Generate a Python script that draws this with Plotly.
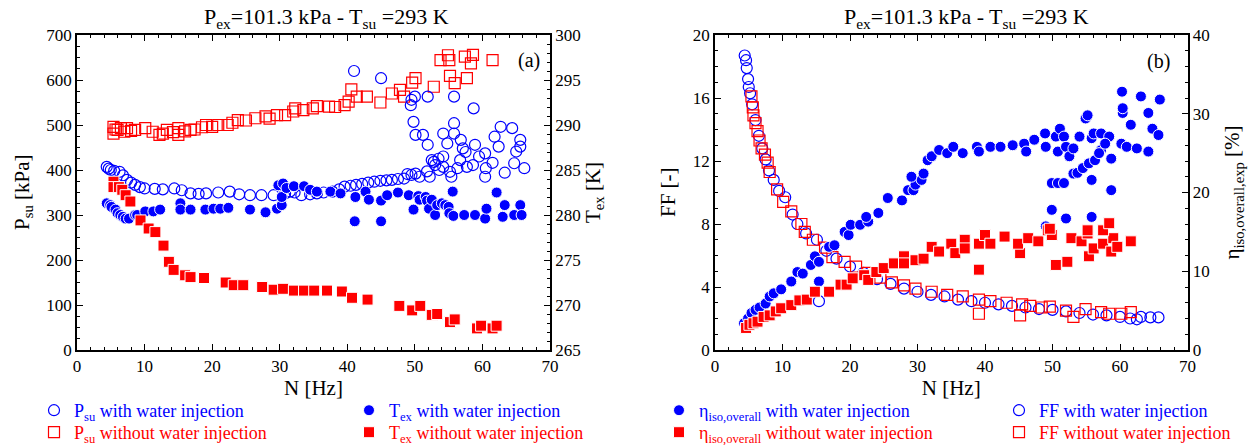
import plotly.graph_objects as go

# ---------------- data ----------------
# (a) P_su with water injection  [kPa]  (left axis)
N_psu_w = [4.4, 4.7, 5.0, 5.5, 6.3, 6.8, 7.4, 8.0, 8.6, 9.3, 10.0, 11.5, 12.7, 14.4, 15.5, 16.8,
           18.0, 19.1, 20.9, 22.6, 24.0, 25.6, 27.3, 29.1, 30.8, 31.5, 32.2, 33.2, 34.5, 35.5, 36.5,
           37.8, 38.8, 39.6, 40.5, 41.3, 42.2, 43.1, 44.0, 44.9, 45.8, 46.6, 47.5, 48.4, 49.5, 50.1,
           41.0, 45.0, 50.0, 51.9, 55.8, 58.7, 49.5, 49.4, 49.8, 50.1, 51.2, 51.9, 54.2, 55.8, 55.8,
           54.8, 56.8, 57.1, 58.9, 60.4, 62.7, 64.4, 61.8, 62.4, 65.6, 65.6, 65.0, 66.2, 63.3, 64.7,
           61.5, 60.5, 60.4, 58.6, 57.7, 56.3, 55.4, 53.6, 53.0, 52.2, 50.7, 48.9, 52.5, 54.2, 51.8,
           52.8, 54.2, 55.2, 56.7, 57.5, 53.5, 59.5]
P_psu_w = [407, 403, 400, 398, 396, 388, 378, 372, 367, 362, 359, 358, 357, 359, 355, 348,
           347, 348, 350, 352, 346, 344, 344, 344, 348, 352, 350, 344, 346, 348, 350,
           352, 357, 363, 365, 367, 369, 372, 374, 376, 377, 378, 380, 381, 389, 392,
           620, 604, 563, 563, 563, 537, 556, 544, 507, 478, 478, 456, 481, 504, 481,
           459, 467, 448, 456, 437, 496, 493, 474, 452, 467, 452, 441, 404, 394, 415,
           416, 404, 385, 411, 407, 404, 385, 400, 411, 385, 385, 391, 422, 430, 397,
           418, 407, 396, 422, 440, 425, 430]

# (a) T_ex with water injection [K]  (right axis)
N_tex_w = [4.4, 4.9, 5.1, 5.7, 6.0, 6.4, 6.8, 7.2, 7.7, 8.6, 8.9, 10.1, 11.3, 12.3, 15.3, 15.3,
           16.8, 19.0, 20.2, 21.2, 22.4, 25.6, 27.9, 29.6, 30.3, 29.8, 30.5, 30.3, 31.0, 32.1, 33.6,
           34.5, 35.5, 37.5, 39.0, 41.2, 41.1, 42.7, 43.2, 45.0, 45.0, 45.9, 47.5, 49.1, 49.8, 50.5,
           50.7, 51.6, 51.8, 52.1, 52.5, 53.0, 53.3, 54.0, 54.5, 55.0, 55.1, 55.6, 55.7, 57.3, 58.9,
           60.4, 60.6, 62.1, 63.0, 63.3, 64.7, 65.6, 65.8]
T_tex_w = [281.3, 281.1, 280.9, 280.6, 280.2, 280.0, 279.8, 279.6, 279.6, 280.0, 280.0, 280.4, 280.4,
           280.6, 281.3, 280.6, 280.6, 280.6, 280.7, 280.7, 280.8, 280.6, 280.3, 280.7, 281.1, 283.3,
           283.5, 282.0, 283.0, 283.2, 283.2, 282.8, 282.6, 282.6, 282.4, 282.0, 279.3, 282.6, 281.7,
           281.6, 279.3, 282.2, 282.5, 282.2, 280.6, 282.1, 281.7, 282.0, 281.6, 280.7, 281.7, 280.0,
           281.1, 281.3, 281.1, 280.9, 280.2, 282.6, 279.9, 280.0, 280.0, 279.6, 280.7, 282.5, 279.8,
           281.1, 280.0, 281.1, 280.0]

# (a) P_su without water injection [kPa]
N_psu_wo = [5.4, 5.4, 5.7, 6.0, 6.5, 7.0, 7.4, 8.0, 8.6, 10.1, 11.2, 12.2, 12.7, 13.3, 14.2, 15.0,
            15.0, 16.0, 16.8, 17.4, 18.5, 19.1, 20.0, 20.9, 22.3, 23.0, 23.8, 25.0, 26.4, 27.9, 28.5,
            29.6, 30.8, 32.0, 32.3, 33.5, 34.9, 35.5, 37.3, 38.2, 39.6, 40.2, 40.6, 41.4, 42.9, 44.9,
            46.6, 47.8, 48.4, 49.6, 50.1, 52.8, 53.8, 54.9, 55.1, 55.2, 55.9, 57.7, 57.4, 58.3, 58.6,
            61.5]
P_psu_wo = [496, 481, 490, 489, 493, 485, 493, 487, 489, 493, 485, 478, 481, 489, 484, 493,
            478, 486, 489, 490, 495, 500, 496, 500, 500, 505, 511, 510, 515, 519, 514,
            522, 522, 530, 537, 533, 537, 542, 541, 540, 544, 552, 579, 563, 563, 550,
            570, 578, 563, 594, 604, 585, 644, 655, 644, 609, 593, 604, 652, 637, 656,
            644]

# (a) T_ex without water injection [K]
N_tex_wo = [5.4, 5.4, 6.2, 6.7, 7.2, 7.9, 9.4, 10.6, 11.6, 12.8, 13.6, 14.3, 16.0, 16.8, 18.8, 22.0,
            23.2, 24.6, 27.4, 29.1, 30.5, 32.1, 33.6, 35.1, 37.0, 39.2, 40.7, 43.0, 47.7, 49.6, 50.8,
            52.5, 53.3, 55.2, 55.9, 59.2, 59.8, 61.5, 62.1]
T_tex_wo = [283.7, 283.1, 283.1, 282.8, 282.2, 281.5, 279.4, 278.5, 278.1, 276.6, 274.8, 273.9, 273.3,
            273.1, 273.0, 272.5, 272.2, 272.2, 272.0, 271.7, 271.8, 271.6, 271.6, 271.6, 271.6, 271.5,
            270.8, 270.6, 269.9, 269.4, 269.9, 268.9, 269.0, 268.1, 268.4, 267.4, 267.7, 267.4, 267.7]

# (b) FF with water injection [-]
N_ff_w = [4.4, 4.6, 4.7, 4.9, 5.0, 5.2, 5.5, 6.0, 6.5, 7.0, 7.5, 8.0, 8.7, 9.5, 10.4, 11.5, 12.2,
          13.5, 15.1, 15.4, 16.5, 18.0, 20.0, 22.0, 24.0, 26.0, 28.0, 30.0, 32.0, 34.0, 36.0, 38.0,
          40.0, 42.0, 44.0, 46.0, 48.0, 50.0, 52.0, 54.0, 56.0, 58.0, 60.0, 61.5, 62.5, 63.1, 64.5,
          65.7]
FF_w = [18.7, 18.4, 17.9, 17.2, 16.7, 16.3, 15.6, 14.6, 13.6, 12.8, 12.1, 11.4, 10.8, 10.1, 9.7, 8.6,
        8.0, 7.4, 7.0, 3.1, 6.3, 5.8, 5.3, 4.9, 4.5, 4.2, 3.9, 3.7, 3.5, 3.4, 3.2, 3.1,
        3.0, 2.9, 2.8, 2.7, 2.6, 2.55, 2.45, 2.35, 2.25, 2.2, 2.1, 2.0, 1.95, 2.1, 2.07,
        2.07]

# (b) eta_iso,overall with water injection [%]
N_eta_w = [4.3, 4.9, 5.4, 6.0, 6.6, 7.5, 8.1, 8.7, 9.8, 11.3, 12.2, 13.0, 14.2, 14.8, 15.4, 15.4,
           16.9, 17.7, 19.2, 19.8, 20.1, 21.5, 22.7, 22.4, 24.2, 25.6, 27.7, 28.6, 29.4, 29.7, 30.6,
           29.1, 30.9, 31.5, 32.1, 33.2, 34.4, 35.3, 36.7, 38.8, 39.1, 40.8, 42.3, 44.1, 45.8, 46.1,
           47.3, 48.9, 49.0, 50.5, 51.1, 51.7, 50.8, 52.0, 52.5, 53.1, 54.9, 55.2, 54.0, 55.8, 56.1,
           57.2, 58.4, 57.2, 57.8, 58.7, 55.8, 58.7, 60.2, 60.4, 60.4, 60.3, 61.0, 61.6, 62.5, 63.1,
           64.2, 64.2, 64.8, 65.7, 65.9, 49.9, 50.8, 51.7, 53.1, 53.7, 54.5, 55.4, 56.3, 56.9, 49.9,
           52.0, 55.8, 49.0]
ETA_w = [3.4, 4.0, 4.7, 5.1, 5.4, 5.9, 6.8, 7.2, 7.7, 8.7, 9.9, 9.7, 10.8, 11.9, 11.2, 8.7,
         13.1, 13.3, 15.0, 14.6, 15.9, 15.9, 16.3, 16.9, 17.4, 19.3, 19.0, 20.3, 20.3, 21.0, 21.6,
         22.0, 22.4, 24.1, 24.6, 25.4, 25.0, 25.8, 25.0, 25.8, 25.2, 25.8, 25.8, 26.0, 26.2, 25.2,
         26.7, 27.5, 25.8, 27.1, 28.1, 27.1, 25.2, 25.8, 24.6, 25.6, 29.4, 29.8, 27.1, 26.9, 27.5,
         27.5, 27.1, 25.4, 26.2, 24.3, 21.6, 20.3, 26.2, 30.1, 30.7, 32.8, 25.8, 28.6, 25.6, 32.2,
         30.1, 25.2, 28.1, 27.3, 31.8, 21.2, 21.2, 21.2, 22.4, 22.5, 23.1, 23.7, 24.1, 25.0, 17.8,
         16.7, 16.9, 15.7]

# (b) FF without water injection [-]
N_ff_wo = [5.4, 5.6, 5.7, 6.0, 6.3, 6.6, 6.9, 7.4, 7.8, 8.1, 9.2, 10.1, 11.3, 12.8, 13.3, 14.5,
           16.3, 17.4, 19.2, 20.9, 22.7, 24.5, 26.2, 28.0, 29.7, 32.1, 34.4, 36.7, 39.1, 40.8, 43.2,
           45.5, 46.7, 48.4, 49.6, 52.0, 53.1, 54.9, 57.2, 58.4, 60.2, 61.6, 39.1, 45.2]
FF_wo = [16.1, 15.4, 14.9, 14.4, 13.9, 13.3, 12.8, 12.4, 11.9, 11.3, 10.2, 9.4, 8.8, 8.0, 7.5, 7.0,
         6.5, 5.9, 5.6, 5.3, 4.9, 4.6, 4.3, 4.1, 3.9, 3.7, 3.5, 3.4, 3.2, 3.1, 3.0,
         2.9, 2.8, 2.7, 2.75, 2.5, 2.1, 2.6, 2.4, 2.3, 2.3, 2.4, 2.3, 2.2]

# (b) eta_iso,overall without water injection [%]
N_eta_wo = [4.6, 5.1, 5.7, 6.3, 7.2, 8.1, 9.0, 9.8, 11.3, 12.5, 13.6, 14.8, 16.9, 18.6, 19.5, 20.4,
            22.1, 22.7, 23.9, 25.0, 26.5, 28.0, 28.0, 29.7, 30.9, 32.1, 33.2, 35.0, 35.6, 37.0, 37.0,
            39.1, 39.1, 40.0, 40.8, 42.9, 45.2, 44.9, 46.4, 47.9, 49.3, 49.9, 50.5, 52.2, 52.8, 54.3,
            55.2, 55.4, 56.1, 57.5, 58.4, 59.0, 58.7, 59.6, 61.6, 57.5, 49.6, 55.2, 58.4]
ETA_wo = [2.8, 3.2, 3.4, 3.6, 4.2, 4.4, 4.9, 5.3, 5.7, 6.3, 6.4, 7.4, 7.4, 8.3, 8.3, 9.1,
          9.5, 8.9, 9.9, 10.4, 11.0, 11.9, 11.0, 11.4, 11.6, 13.1, 12.5, 13.5, 12.3, 14.0, 12.9,
          10.2, 13.5, 14.6, 13.5, 14.4, 12.3, 13.5, 14.2, 13.8, 15.2, 14.6, 10.8, 11.2, 14.2, 13.8,
          14.8, 11.9, 12.9, 13.5, 16.1, 14.2, 12.5, 13.1, 13.8, 15.2, 15.4, 15.2, 16.1]

# axis ranges / texts
X_RANGE = [0, 70]
P_RANGE = [0, 700]
T_RANGE = [265, 300]
FF_RANGE = [0, 20]
ETA_RANGE = [0, 40]
TITLE_TXT = "P<sub>ex</sub>=101.3 kPa - T<sub>su</sub> =293 K"

# ---------------- figure ----------------
W, H = 1252, 445
BLUE = "#0000ff"
RED = "#ff0000"
FONT = "Liberation Serif"


def fx(p):
    return p / W


def fy(p):
    return 1 - p / H


def open_marker(sym, col):
    return dict(symbol=sym, size=11, color=col, line=dict(color=col, width=1.2))


def filled_marker(sym, col):
    return dict(symbol=sym, size=11, color=col, line=dict(color="white", width=1))


def lname(txt, col):
    return '<span style="color:%s">%s</span>' % (col, txt)


fig = go.Figure()

# ---- left panel
fig.add_trace(go.Scatter(x=N_psu_wo, y=P_psu_wo, mode="markers", xaxis="x", yaxis="y",
                         marker=open_marker("square-open", RED), legend="legend2",
                         name=lname("P<sub>su</sub> without water injection", RED)))
fig.add_trace(go.Scatter(x=N_psu_w, y=P_psu_w, mode="markers", xaxis="x", yaxis="y",
                         marker=open_marker("circle-open", BLUE), legend="legend",
                         name=lname("P<sub>su</sub> with water injection", BLUE)))
fig.add_trace(go.Scatter(x=N_tex_w, y=T_tex_w, mode="markers", xaxis="x", yaxis="y2",
                         marker=filled_marker("circle", BLUE), legend="legend3",
                         name=lname("T<sub>ex</sub> with water injection", BLUE)))
fig.add_trace(go.Scatter(x=N_tex_wo, y=T_tex_wo, mode="markers", xaxis="x", yaxis="y2",
                         marker=filled_marker("square", RED), legend="legend4",
                         name=lname("T<sub>ex</sub> without water injection", RED)))

# ---- right panel
fig.add_trace(go.Scatter(x=N_ff_w, y=FF_w, mode="markers", xaxis="x2", yaxis="y3",
                         marker=open_marker("circle-open", BLUE), legend="legend7",
                         name=lname("FF with water injection", BLUE)))
fig.add_trace(go.Scatter(x=N_ff_wo, y=FF_wo, mode="markers", xaxis="x2", yaxis="y3",
                         marker=open_marker("square-open", RED), legend="legend8",
                         name=lname("FF without water injection", RED)))
fig.add_trace(go.Scatter(x=N_eta_w, y=ETA_w, mode="markers", xaxis="x2", yaxis="y4",
                         marker=filled_marker("circle", BLUE), legend="legend5",
                         name=lname("η<sub>iso,overall</sub> with water injection", BLUE)))
fig.add_trace(go.Scatter(x=N_eta_wo, y=ETA_wo, mode="markers", xaxis="x2", yaxis="y4",
                         marker=filled_marker("square", RED), legend="legend6",
                         name=lname("η<sub>iso,overall</sub> without water injection", RED)))

tickfont = dict(family=FONT, size=17, color="black")
titlefont = dict(family=FONT, size=21, color="black")

common = dict(showgrid=False, zeroline=False, showline=True, linecolor="black", linewidth=1.6,
              ticks="inside", ticklen=6, tickwidth=1, tickcolor="black", tickfont=tickfont)

xdom_l = [fx(77), fx(550)]
xdom_r = [fx(715), fx(1187.5)]
ydom = [fy(350), fy(35)]


def minor(d):
    return dict(dtick=d, ticks="inside", ticklen=3, tickcolor="black")


fig.update_layout(
    xaxis=dict(domain=xdom_l, range=X_RANGE, dtick=10, anchor="y", mirror="ticks",
               minor=minor(2), ticklabelstandoff=0,
               title=dict(text="N [Hz]", font=titlefont, standoff=3), **common),
    yaxis=dict(domain=ydom, range=P_RANGE, dtick=100, anchor="x", minor=minor(25), **common),
    yaxis2=dict(range=T_RANGE, dtick=5, overlaying="y", side="right", anchor="x", minor=minor(1),
                title=dict(text="T<sub>ex</sub> [K]", font=titlefont, standoff=4), **common),
    xaxis2=dict(domain=xdom_r, range=X_RANGE, dtick=10, anchor="y3", mirror="ticks",
                minor=minor(2), ticklabelstandoff=0,
                title=dict(text="N [Hz]", font=titlefont, standoff=3), **common),
    yaxis3=dict(domain=ydom, range=FF_RANGE, dtick=4, anchor="x2", minor=minor(1), **common),
    yaxis4=dict(range=ETA_RANGE, dtick=10, overlaying="y3", side="right", anchor="x2", minor=minor(2),
                title=dict(text="η<sub>iso,overall,exp</sub> [%]", font=titlefont, standoff=16),
                **common),
)

legfont = dict(family=FONT, size=18)
legcommon = dict(orientation="v", xanchor="left", yanchor="top", bgcolor="rgba(0,0,0,0)",
                 font=legfont, itemclick=False, itemdoubleclick=False)
ROW1, ROW2 = 392, 414
fig.update_layout(
    legend=dict(x=fx(34), y=fy(ROW1), **legcommon),
    legend2=dict(x=fx(34), y=fy(ROW2), **legcommon),
    legend3=dict(x=fx(349), y=fy(ROW1), **legcommon),
    legend4=dict(x=fx(349), y=fy(ROW2), **legcommon),
    legend5=dict(x=fx(659), y=fy(ROW1), **legcommon),
    legend6=dict(x=fx(659), y=fy(ROW2), **legcommon),
    legend7=dict(x=fx(999), y=fy(ROW1), **legcommon),
    legend8=dict(x=fx(999), y=fy(ROW2), **legcommon),
)

ann = []
for cx in (326, 966):
    ann.append(dict(text=TITLE_TXT, x=fx(cx), y=fy(18), xref="paper", yref="paper",
                    showarrow=False, font=dict(family=FONT, size=22, color="black"),
                    xanchor="center", yanchor="middle"))
ann.append(dict(text="(a)", x=fx(529), y=fy(60), xref="paper", yref="paper", showarrow=False,
                font=dict(family=FONT, size=20, color="black"), xanchor="center", yanchor="middle"))
ann.append(dict(text="(b)", x=fx(1158), y=fy(62), xref="paper", yref="paper", showarrow=False,
                font=dict(family=FONT, size=20, color="black"), xanchor="center", yanchor="middle"))
# left-hand axis titles (placed closer to the tick labels than plotly's standoff allows)
ann.append(dict(text="P<sub>su</sub> [kPa]", x=fx(23), y=fy(192), xref="paper", yref="paper",
                showarrow=False, textangle=-90, font=titlefont, xanchor="center", yanchor="middle"))
ann.append(dict(text="FF [-]", x=fx(668), y=fy(192), xref="paper", yref="paper",
                showarrow=False, textangle=-90, font=titlefont, xanchor="center", yanchor="middle"))

fig.update_layout(
    width=W, height=H, margin=dict(l=0, r=0, t=0, b=0, autoexpand=False),
    paper_bgcolor="white", plot_bgcolor="white",
    font=dict(family=FONT, color="black"),
    showlegend=True, annotations=ann,
)

fig.write_html("out.html", config={"displayModeBar": False},
               post_script="document.body.style.margin='0px'; document.body.style.overflow='hidden';")
